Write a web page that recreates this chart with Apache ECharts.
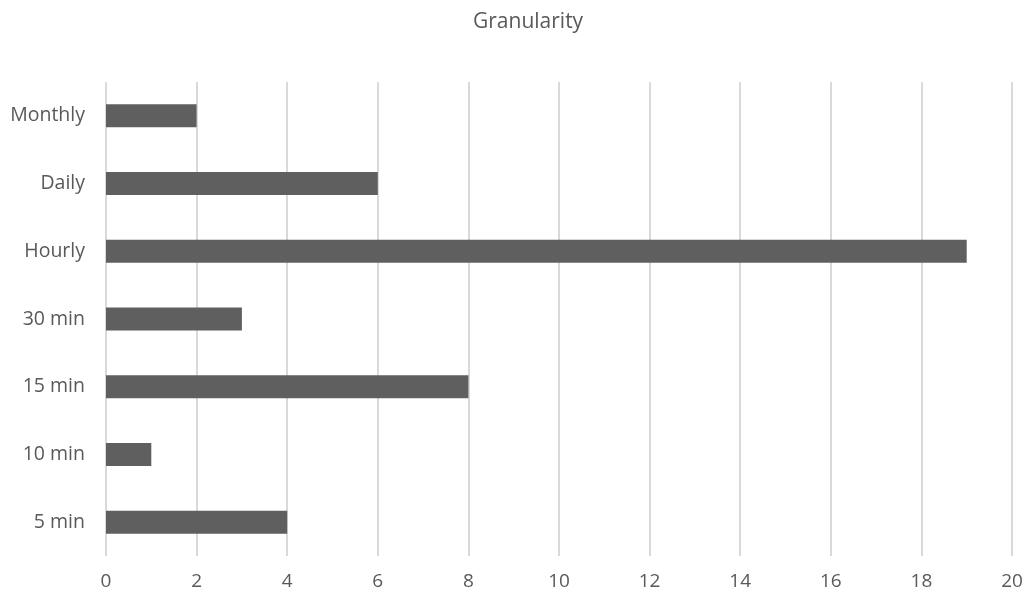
<!DOCTYPE html>
<html>
<head>
<meta charset="utf-8">
<script src="https://cdn.jsdelivr.net/npm/echarts@6/dist/echarts.min.js"></script>
<style>
  html, body { margin: 0; padding: 0; background: #ffffff; }
  #chart { width: 1028px; height: 595px; }
</style>
</head>
<body>
<div id="chart"></div>
<script>
// Granularity counts, listed bottom to top
const categories = ['5 min', '10 min', '15 min', '30 min', 'Hourly', 'Daily', 'Monthly'];
const counts = [4, 1, 8, 3, 19, 6, 2];
const xTicks = { min: 0, max: 20, step: 2 };

const textColor = '#595959';
const fontFamily = '"Open Sans", "Liberation Sans", sans-serif';

const chart = echarts.init(document.getElementById('chart'), null, { renderer: 'canvas' });
chart.setOption({
  animation: false,
  title: {
    text: 'Granularity',
    left: 468,
    top: 7,
    textStyle: { color: textColor, fontSize: 21, fontWeight: 'normal', fontFamily: fontFamily }
  },
  grid: { left: 106, right: 16, top: 82, bottom: 39, containLabel: false },
  xAxis: {
    type: 'value',
    min: xTicks.min,
    max: xTicks.max,
    interval: xTicks.step,
    axisLine: { show: false },
    axisTick: { show: false },
    axisLabel: { color: textColor, fontSize: 19, fontFamily: fontFamily, margin: 16 },
    splitLine: { show: true, lineStyle: { color: '#d9d9d9', width: 2 } }
  },
  yAxis: {
    type: 'category',
    data: categories,
    axisLine: { show: false },
    axisTick: { show: false },
    axisLabel: { color: textColor, fontSize: 19.5, fontFamily: fontFamily, margin: 21 }
  },
  series: [{
    type: 'bar',
    data: counts,
    barWidth: 23,
    itemStyle: { color: '#5f5f5f' }
  }]
});
</script>
</body>
</html>
